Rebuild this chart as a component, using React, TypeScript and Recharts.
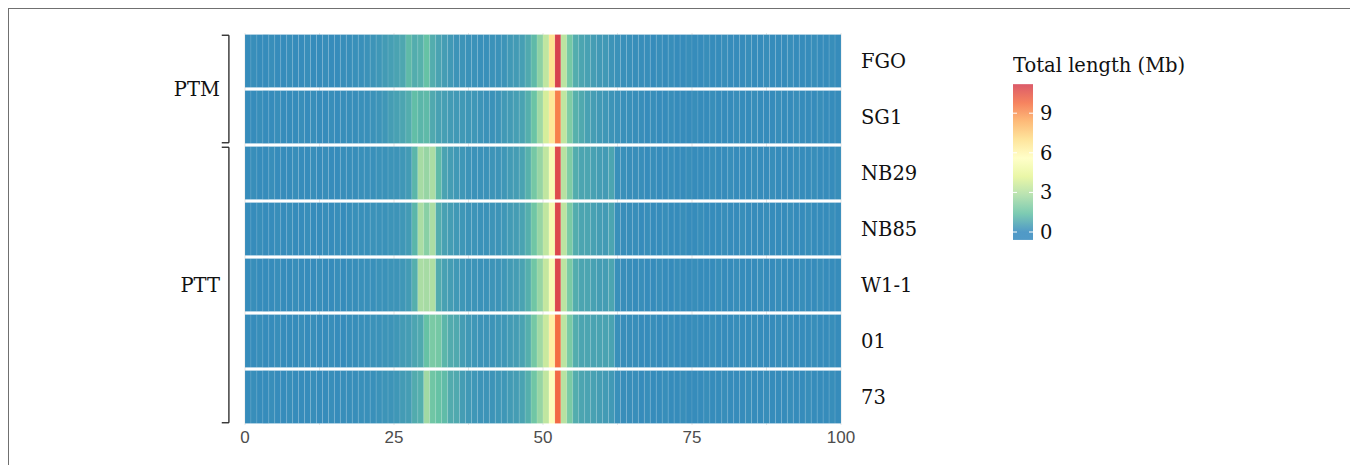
import React from "react";
import { ComposedChart, XAxis, YAxis, CartesianGrid, ReferenceArea, ReferenceLine } from "recharts";

const rows = ["FGO", "SG1", "NB29", "NB85", "W1-1", "01", "73"];
const groups = [
  { name: "PTM", from: 0, to: 2 },
  { name: "PTT", from: 2, to: 7 },
];
const xTicks = [0, 25, 50, 75, 100];
const gridValues = [0, 12.5, 25, 37.5, 50, 62.5, 75, 87.5, 100];
const legendTicks = [0, 3, 6, 9];

// total length (Mb) per 1-unit bin, one array per sample
const fgo = [
  0.1, 0.15, 0.1, 0.1, 0.15, 0.1, 0.1, 0.15, 0.1, 0.1,
  0.15, 0.1, 0.1, 0.15, 0.1, 0.1, 0.15, 0.15, 0.2, 0.2,
  0.25, 0.3, 0.35, 0.45, 0.55, 0.65, 0.75, 1.2, 0.9, 1.0,
  1.4, 0.9, 0.65, 0.5, 0.4, 0.3, 0.3, 0.25, 0.25, 0.2,
  0.2, 0.25, 0.25, 0.3, 0.4, 0.45, 0.55, 0.8, 1.2, 2.2,
  3.3, 6.8, 11.1, 3.2, 1.7, 0.9, 0.7, 0.6, 0.5, 0.4,
  0.4, 0.3, 0.25, 0.2, 0.2, 0.15, 0.15, 0.15, 0.1, 0.15,
  0.1, 0.15, 0.1, 0.1, 0.15, 0.1, 0.1, 0.15, 0.1, 0.1,
  0.15, 0.1, 0.1, 0.1, 0.15, 0.1, 0.1, 0.15, 0.1, 0.1,
  0.1, 0.15, 0.1, 0.1, 0.1, 0.15, 0.1, 0.1, 0.15, 0.1,
];
const sg1 = [
  0.1, 0.1, 0.15, 0.1, 0.1, 0.15, 0.1, 0.1, 0.1, 0.15,
  0.1, 0.15, 0.1, 0.1, 0.15, 0.1, 0.15, 0.15, 0.15, 0.2,
  0.2, 0.25, 0.3, 0.35, 0.5, 0.6, 0.7, 0.9, 1.3, 1.1,
  1.2, 0.8, 0.6, 0.55, 0.45, 0.4, 0.4, 0.35, 0.35, 0.3,
  0.25, 0.25, 0.3, 0.4, 0.45, 0.55, 0.65, 0.95, 1.5, 2.6,
  3.8, 6.6, 9.4, 3.3, 1.9, 1.0, 0.8, 0.6, 0.5, 0.4,
  0.35, 0.3, 0.25, 0.2, 0.2, 0.15, 0.15, 0.1, 0.15, 0.1,
  0.1, 0.15, 0.1, 0.1, 0.1, 0.15, 0.1, 0.1, 0.15, 0.1,
  0.1, 0.1, 0.15, 0.1, 0.1, 0.15, 0.1, 0.1, 0.1, 0.15,
  0.1, 0.1, 0.15, 0.1, 0.1, 0.1, 0.15, 0.1, 0.1, 0.1,
];
const nb29 = [
  0.1, 0.15, 0.1, 0.1, 0.15, 0.1, 0.1, 0.1, 0.15, 0.1,
  0.1, 0.15, 0.1, 0.15, 0.1, 0.1, 0.15, 0.15, 0.15, 0.2,
  0.2, 0.2, 0.25, 0.25, 0.3, 0.3, 0.35, 0.45, 1.1, 2.7,
  2.4, 2.8, 1.2, 0.65, 0.5, 0.4, 0.35, 0.3, 0.25, 0.25,
  0.25, 0.3, 0.3, 0.35, 0.45, 0.5, 0.65, 1.0, 1.7, 2.4,
  3.3, 5.2, 10.8, 3.1, 1.9, 0.9, 0.7, 0.7, 0.6, 0.5,
  0.45, 0.7, 0.2, 0.2, 0.15, 0.15, 0.15, 0.1, 0.15, 0.1,
  0.1, 0.15, 0.1, 0.1, 0.15, 0.1, 0.1, 0.1, 0.15, 0.1,
  0.1, 0.15, 0.1, 0.1, 0.1, 0.15, 0.1, 0.1, 0.15, 0.1,
  0.1, 0.1, 0.15, 0.1, 0.1, 0.15, 0.1, 0.1, 0.1, 0.15,
];
const nb85 = [
  0.1, 0.1, 0.15, 0.1, 0.1, 0.15, 0.1, 0.15, 0.1, 0.1,
  0.15, 0.1, 0.1, 0.15, 0.1, 0.15, 0.1, 0.15, 0.2, 0.2,
  0.2, 0.25, 0.25, 0.25, 0.3, 0.3, 0.35, 0.45, 1.1, 2.8,
  2.1, 2.8, 0.9, 0.6, 0.5, 0.4, 0.35, 0.3, 0.3, 0.25,
  0.25, 0.3, 0.3, 0.35, 0.45, 0.5, 0.65, 0.95, 1.6, 2.4,
  3.3, 5.1, 10.9, 3.2, 1.8, 0.9, 0.7, 0.7, 0.6, 0.5,
  0.45, 0.7, 0.2, 0.15, 0.15, 0.15, 0.1, 0.15, 0.1, 0.1,
  0.15, 0.1, 0.1, 0.15, 0.1, 0.1, 0.15, 0.1, 0.1, 0.1,
  0.15, 0.1, 0.1, 0.15, 0.1, 0.1, 0.1, 0.15, 0.1, 0.1,
  0.1, 0.15, 0.1, 0.1, 0.15, 0.1, 0.1, 0.1, 0.15, 0.1,
];
const w11 = [
  0.1, 0.15, 0.1, 0.1, 0.1, 0.15, 0.1, 0.1, 0.15, 0.1,
  0.1, 0.1, 0.15, 0.1, 0.1, 0.15, 0.1, 0.15, 0.15, 0.2,
  0.2, 0.2, 0.25, 0.25, 0.3, 0.3, 0.35, 0.45, 0.95, 2.8,
  2.7, 2.9, 0.85, 0.6, 0.5, 0.4, 0.35, 0.3, 0.3, 0.25,
  0.25, 0.3, 0.3, 0.35, 0.45, 0.5, 0.65, 0.95, 1.6, 2.4,
  3.4, 5.2, 10.9, 3.2, 1.8, 0.9, 0.7, 0.7, 0.6, 0.5,
  0.5, 0.7, 0.2, 0.15, 0.15, 0.1, 0.15, 0.1, 0.1, 0.15,
  0.1, 0.1, 0.15, 0.1, 0.1, 0.15, 0.1, 0.1, 0.1, 0.15,
  0.1, 0.1, 0.15, 0.1, 0.1, 0.1, 0.15, 0.1, 0.1, 0.15,
  0.1, 0.1, 0.1, 0.15, 0.1, 0.1, 0.15, 0.1, 0.1, 0.1,
];
const s01 = [
  0.1, 0.1, 0.15, 0.1, 0.1, 0.15, 0.1, 0.1, 0.1, 0.15,
  0.1, 0.15, 0.1, 0.1, 0.15, 0.1, 0.1, 0.15, 0.15, 0.2,
  0.2, 0.25, 0.25, 0.3, 0.3, 0.35, 0.45, 0.5, 0.7, 0.8,
  1.4, 1.8, 1.7, 1.1, 0.85, 0.8, 0.5, 0.4, 0.35, 0.3,
  0.3, 0.3, 0.35, 0.35, 0.45, 0.5, 0.65, 0.95, 1.7, 2.6,
  3.5, 6.3, 9.8, 3.2, 1.8, 0.9, 0.7, 0.7, 0.65, 0.65,
  0.65, 0.65, 0.2, 0.15, 0.15, 0.15, 0.1, 0.1, 0.15, 0.1,
  0.1, 0.15, 0.1, 0.1, 0.1, 0.15, 0.1, 0.1, 0.15, 0.1,
  0.1, 0.1, 0.15, 0.1, 0.1, 0.15, 0.1, 0.1, 0.1, 0.15,
  0.1, 0.15, 0.1, 0.1, 0.1, 0.15, 0.1, 0.1, 0.15, 0.1,
];
const s73 = [
  0.1, 0.15, 0.1, 0.1, 0.15, 0.1, 0.1, 0.15, 0.1, 0.1,
  0.1, 0.15, 0.1, 0.1, 0.15, 0.1, 0.15, 0.15, 0.15, 0.2,
  0.2, 0.2, 0.25, 0.3, 0.3, 0.35, 0.45, 0.5, 0.85, 0.95,
  2.6, 1.6, 1.4, 1.25, 0.85, 0.8, 0.5, 0.4, 0.35, 0.3,
  0.3, 0.3, 0.35, 0.35, 0.45, 0.5, 0.65, 0.95, 1.6, 2.4,
  3.3, 5.5, 9.9, 3.1, 1.8, 0.9, 0.7, 0.65, 0.6, 0.5,
  0.45, 0.4, 0.2, 0.15, 0.15, 0.15, 0.1, 0.15, 0.1, 0.1,
  0.15, 0.1, 0.1, 0.15, 0.1, 0.1, 0.1, 0.15, 0.1, 0.1,
  0.15, 0.1, 0.1, 0.1, 0.15, 0.1, 0.1, 0.15, 0.1, 0.1,
  0.1, 0.15, 0.1, 0.1, 0.15, 0.1, 0.1, 0.1, 0.15, 0.1,
];
const series = [fgo, sg1, nb29, nb85, w11, s01, s73];

// reversed Spectral, blue (low) -> red (high)
const palette = ["#3288BD", "#66C2A5", "#ABDDA4", "#E6F598", "#FFFFBF", "#FEE08B", "#FDAE61", "#F46D43", "#D53E4F"];
const maxValue = 11.2;

const serif = "DejaVu Serif";

function hexToRgb(h: string) {
  const n = parseInt(h.slice(1), 16);
  return [(n >> 16) & 255, (n >> 8) & 255, n & 255];
}

function colorFor(v: number) {
  const t = Math.max(0, Math.min(1, v / maxValue)) * (palette.length - 1);
  const i = Math.min(Math.floor(t), palette.length - 2);
  const f = t - i;
  const a = hexToRgb(palette[i]);
  const b = hexToRgb(palette[i + 1]);
  const c = a.map((x, k) => Math.round(x + (b[k] - x) * f));
  return `rgb(${c[0]},${c[1]},${c[2]})`;
}

function ColorBar() {
  // bar runs from value -0.6 up to maxValue
  const pxPerUnit = 13.2;
  const zeroY = 187;
  const yOf = (v: number) => zeroY - v * pxPerUnit;
  const top = yOf(maxValue);
  const bottom = yOf(-0.6);
  return (
    <svg width={230} height={210} style={{ position: "absolute", left: 1004, top: 36 }}>
      <defs>
        <linearGradient id="cbar" gradientUnits="userSpaceOnUse" x1={0} y1={yOf(0)} x2={0} y2={yOf(maxValue)}>
          {palette.map((c, i) => (
            <stop key={c} offset={i / (palette.length - 1)} stopColor={c} />
          ))}
        </linearGradient>
      </defs>
      <text x={0} y={27} fontFamily={serif} fontSize={19.5} fill="#111">
        Total length (Mb)
      </text>
      <rect x={0} y={top} width={20} height={bottom - top} fill="url(#cbar)" opacity={0.85} />
      {legendTicks.map((t) => (
        <g key={t}>
          <line x1={0} x2={4} y1={yOf(t)} y2={yOf(t)} stroke="#fff" strokeWidth={1} />
          <line x1={16} x2={20} y1={yOf(t)} y2={yOf(t)} stroke="#fff" strokeWidth={1} />
          <text x={27} y={yOf(t) + 7} fontFamily={serif} fontSize={19.5} fill="#111">
            {t}
          </text>
        </g>
      ))}
    </svg>
  );
}

export default function App() {
  const cells = series.flatMap((vals, r) =>
    vals.map((v, i) => (
      <ReferenceArea
        key={`${r}-${i}`}
        x1={i}
        x2={i + 1}
        y1={r + 0.028}
        y2={r + 0.972}
        fill={colorFor(v)}
        fillOpacity={1}
        stroke="#ffffff"
        strokeOpacity={0.15}
        strokeWidth={0.6}
      />
    ))
  );

  return (
    <div
      style={{
        position: "relative",
        width: 1346,
        height: 470,
        border: "1px solid #707070",
        background: "#fff",
      }}
    >
      <ComposedChart width={1340} height={450} margin={{ top: 24, left: 236, right: 428, bottom: 4 }}>
        <CartesianGrid horizontal={false} verticalValues={gridValues} stroke="#e6e6e6" />
        <XAxis
          type="number"
          dataKey="x"
          domain={[0, 100]}
          allowDataOverflow
          ticks={xTicks}
          axisLine={false}
          tickLine={false}
          height={30}
          tickMargin={0}
          fontSize={17}
          fontFamily="Liberation Sans"
          tick={{ fill: "#4d4d4d", fontSize: 17 }}
        />
        <YAxis
          type="number"
          orientation="right"
          domain={[0, rows.length]}
          allowDataOverflow
          reversed
          ticks={rows.map((_, i) => i + 0.5)}
          interval={0}
          tickFormatter={(v: number) => rows[Math.floor(v)]}
          axisLine={false}
          tickLine={false}
          tickSize={0}
          tickMargin={20}
          width={80}
          tick={{ fill: "#111", fontSize: 19.5, fontFamily: serif, textAnchor: "start" }}
        />
        {cells}
        {groups.map((g) => (
          <ReferenceLine
            key={g.name}
            ifOverflow="visible"
            segment={[
              { x: -2.7, y: g.from + 0.04 },
              { x: -2.7, y: g.to - 0.04 },
            ]}
            stroke="#222"
            strokeWidth={1.3}
            label={{ value: g.name, position: "left", offset: 9, fill: "#111", fontSize: 19.5, fontFamily: serif }}
          />
        ))}
        {groups.flatMap((g) =>
          [g.from + 0.04, g.to - 0.04].map((y) => (
            <ReferenceLine
              key={`${g.name}-${y}`}
              ifOverflow="visible"
              segment={[
                { x: -3.9, y },
                { x: -2.7, y },
              ]}
              stroke="#222"
              strokeWidth={1.3}
            />
          ))
        )}
      </ComposedChart>
      <ColorBar />
    </div>
  );
}
